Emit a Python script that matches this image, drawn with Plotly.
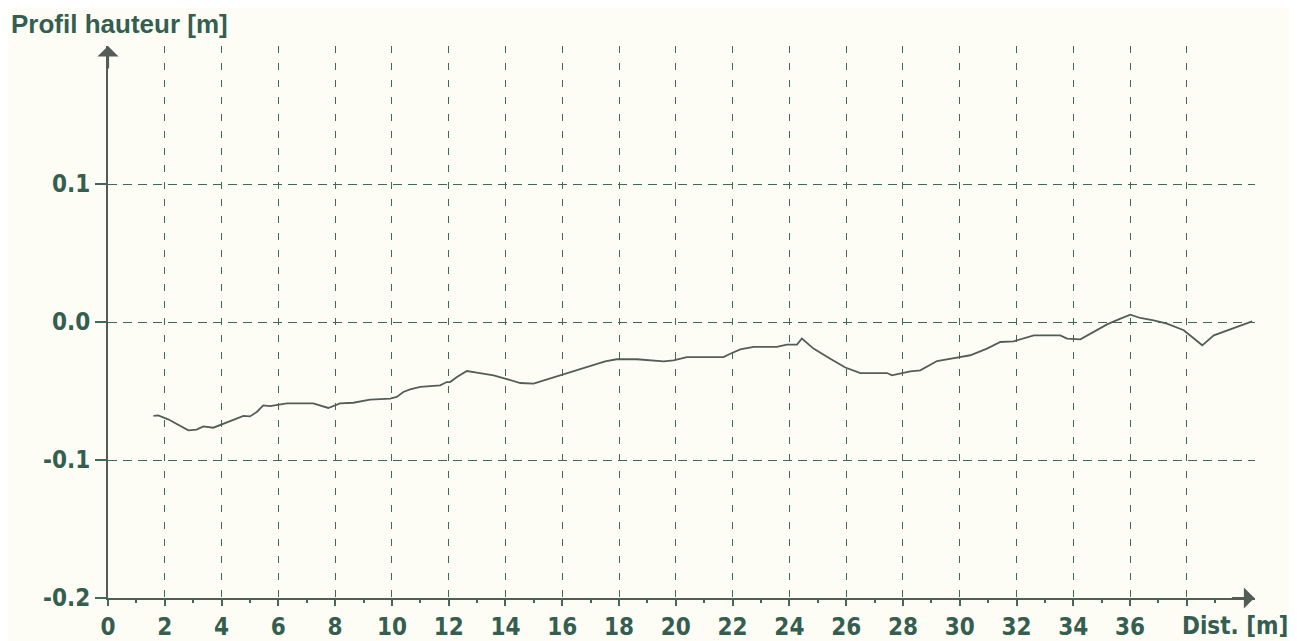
import plotly.graph_objects as go

dist = [1.6, 1.77, 2.12, 2.5, 2.83, 3.12, 3.36, 3.71, 4.06, 4.42, 4.77, 5.0, 5.24, 5.47, 5.71,
        6.3, 7.23, 7.76, 8.17, 8.64, 9.23, 9.94, 10.17, 10.4, 10.64, 11.0, 11.7, 11.93, 12.05,
        12.29, 12.64, 12.99, 13.58, 13.99, 14.52, 14.99, 15.57, 15.99, 16.51, 17.1, 17.51, 17.92,
        18.63, 19.57, 19.92, 20.39, 21.21, 21.68, 21.92, 22.27, 22.74, 23.56, 23.91, 24.27, 24.44,
        24.85, 25.44, 25.97, 26.5, 27.44, 27.61, 28.26, 28.61, 29.2, 29.9, 30.37, 30.96, 31.43,
        31.9, 32.61, 33.54, 33.78, 34.25, 34.72, 35.19, 35.66, 36.01, 36.36, 36.83, 37.3, 37.89,
        38.25, 38.54, 38.95, 39.42, 39.89, 40.3]
height = [-0.068, -0.0677, -0.0705, -0.075, -0.0785, -0.078, -0.0756, -0.0766, -0.0737, -0.0705,
          -0.068, -0.0684, -0.0652, -0.0604, -0.0609, -0.059, -0.059, -0.0623, -0.059, -0.0585,
          -0.0563, -0.0555, -0.0543, -0.0507, -0.0488, -0.047, -0.0459, -0.0435, -0.0435, -0.0399,
          -0.0355, -0.0367, -0.0387, -0.041, -0.0442, -0.0447, -0.041, -0.0382, -0.0345, -0.031,
          -0.0285, -0.027, -0.027, -0.0285, -0.0278, -0.0254, -0.0251, -0.0254, -0.023, -0.0198,
          -0.018, -0.018, -0.0164, -0.0164, -0.012, -0.0193, -0.0266, -0.033, -0.037, -0.037,
          -0.0387, -0.0357, -0.035, -0.0283, -0.0258, -0.0241, -0.0193, -0.0145, -0.014, -0.0097,
          -0.0097, -0.012, -0.0126, -0.0072, -0.0017, 0.0024, 0.0053, 0.0029, 0.0012, -0.0012,
          -0.006, -0.012, -0.0169, -0.0097, -0.006, -0.0024, 0.0005]

x_ticks = list(range(0, 40, 2))
x_labels = [str(v) for v in range(0, 38, 2)] + [""]
y_ticks = [-0.2, -0.1, 0.0, 0.1]
y_labels = ["-0.2", "-0.1", "0.0", "0.1"]

TXT = "#355e50"
GRID = "#3f6a5b"
LINE = "#535d57"
BG = "#fdfdf6"
NARROW = "Liberation Sans Narrow, DejaVu Sans Condensed, Arial Narrow, sans-serif"

# page body has an 8px margin: figure drawn at (8, 8)
W, H = 1289, 633
ML, MR, MT, MB = 100, 42, 38, 43
X_MAX = 40.4

fig = go.Figure()
fig.add_trace(go.Scatter(x=dist, y=height, mode="lines",
                         line=dict(color=LINE, width=1.8), showlegend=False))

fig.update_layout(
    width=W, height=H,
    margin=dict(l=ML, r=MR, t=MT, b=MB),
    paper_bgcolor=BG, plot_bgcolor=BG,
    showlegend=False,
)
fig.update_xaxes(
    range=[0, X_MAX], tickvals=x_ticks, ticktext=x_labels, automargin=False,
    showgrid=True, gridcolor=GRID, griddash="7px,10px", gridwidth=1.2,
    showline=True, linecolor=LINE, linewidth=2,
    ticks="outside", ticklen=6, tickwidth=1.5, tickcolor=GRID,
    minor=dict(tickvals=list(range(1, 41, 2)), ticks="outside", ticklen=3, tickcolor=GRID, showgrid=False),
    tickfont=dict(family=NARROW, size=24, color=TXT, weight="bold"),
    zeroline=False,
)
fig.update_yaxes(
    range=[-0.2, 0.2], tickvals=y_ticks, ticktext=y_labels, automargin=False,
    showgrid=True, gridcolor=GRID, griddash="9px,6px", gridwidth=1.2,
    showline=True, linecolor=LINE, linewidth=2,
    ticks="outside", ticklen=11, tickwidth=1.5, tickcolor=GRID,
    tickfont=dict(family=NARROW, size=24, color=TXT, weight="bold"),
    zeroline=False,
)

# arrowheads on axes
fig.add_annotation(x=X_MAX - 0.02, y=-0.2, xref="x", yref="y", ax=-24, ay=0, text="",
                   showarrow=True, arrowhead=1, arrowsize=1.6, arrowwidth=2.2, arrowcolor=LINE)
fig.add_annotation(x=0, y=0.2, xref="x", yref="y", ax=0, ay=24, text="",
                   showarrow=True, arrowhead=1, arrowsize=1.6, arrowwidth=2.2, arrowcolor=LINE)

plot_w = W - ML - MR
plot_h = H - MT - MB
fig.add_annotation(text="Profil hauteur [m]", xref="paper", yref="paper",
                   x=(1 - ML) / plot_w, y=1 + (MT - 16) / plot_h,
                   xanchor="left", yanchor="middle", showarrow=False,
                   font=dict(family="Liberation Sans, Arial, sans-serif", size=26, color=TXT, weight="bold"))
fig.add_annotation(text="Dist. [m]", xref="paper", yref="paper",
                   x=(1227 - ML) / plot_w, y=-(28) / plot_h,
                   xanchor="center", yanchor="middle", showarrow=False,
                   font=dict(family=NARROW, size=24, color=TXT, weight="bold"))

fig.write_html("out.html")
